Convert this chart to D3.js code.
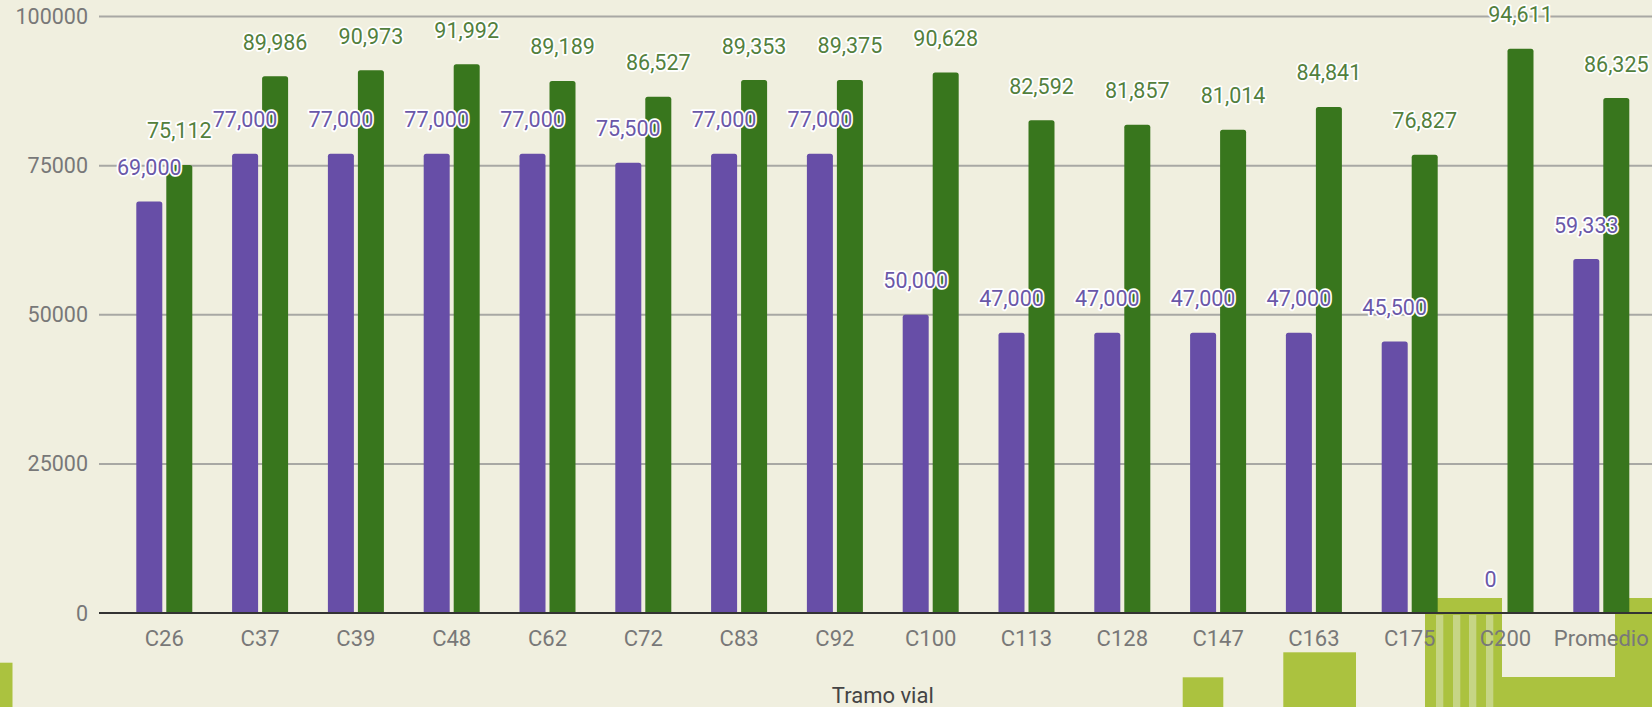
<!DOCTYPE html>
<html>
<head>
    <meta charset="utf-8">
    <style>
        body { margin: 0; background: #f0efdf; }
        text { font-family: Roboto, "Noto Sans", sans-serif; }
        line.grid { stroke: #a8a8a4; stroke-width: 2px; }
        line.base { stroke: #333; stroke-width: 2px; }
        text.tick { fill: #787878; font-size: 21.5px; }
        text.cat { fill: #787878; font-size: 22px; }
        text.title { fill: #444; font-size: 22px; }
        text.note {
            font-size: 21.5px;
            stroke: #fff;
            stroke-width: 3.5px;
            stroke-linejoin: round;
            paint-order: stroke;
        }
        rect.deco { fill: #abc23f; }
        rect.stripe { fill: #c6d585; }
    </style>
</head>
<body>
<div id="chart"></div>
<script src="https://cdn.jsdelivr.net/npm/d3@7/dist/d3.min.js"></script>
<script>

    var categories = ["C26", "C37", "C39", "C48", "C62", "C72", "C83", "C92", "C100",
        "C113", "C128", "C147", "C163", "C175", "C200", "Promedio"];
    var purpleValues = [69000, 77000, 77000, 77000, 77000, 75500, 77000, 77000, 50000,
        47000, 47000, 47000, 47000, 45500, 0, 59333];
    var greenValues = [75112, 89986, 90973, 91992, 89189, 86527, 89353, 89375, 90628,
        82592, 81857, 81014, 84841, 76827, 94611, 86325];
    var yTicks = [0, 25000, 50000, 75000, 100000];

    var width = 1652;
    var height = 707;

    var series = [
        {key: "a", values: purpleValues, color: "#674ea7", text: "#6a58a8"},
        {key: "b", values: greenValues, color: "#38761d", text: "#52803d"}
    ];

    var svg = d3.select("#chart").append("svg")
        .attr("width", width)
        .attr("height", height);

    // lime blocks in the background, behind the chart
    var deco = [
        [0, 662.7, 12.5, 44.3],
        [1182.7, 677.3, 40.6, 29.7],
        [1283.3, 652.3, 72.7, 54.7],
        [1425, 598, 77, 109],
        [1502, 677, 113, 30],
        [1615, 598, 37, 109]
    ];
    svg.append("g").selectAll("rect.deco")
        .data(deco)
        .enter().append("rect")
        .attr("class", "deco")
        .attr("x", function (d) { return d[0]; })
        .attr("y", function (d) { return d[1]; })
        .attr("width", function (d) { return d[2]; })
        .attr("height", function (d) { return d[3]; });

    var stripes = [1436, 1453, 1469, 1486];
    svg.append("g").selectAll("rect.stripe")
        .data(stripes)
        .enter().append("rect")
        .attr("class", "stripe")
        .attr("x", function (d) { return d; })
        .attr("y", 615)
        .attr("width", 7.3)
        .attr("height", 92);

    var y = d3.scaleLinear().domain([0, 100000]).range([613, 16.5]);

    var x0 = d3.scaleBand()
        .domain(categories)
        .range([116.4, 1649.2])
        .paddingInner(0.4154)
        .paddingOuter(0.2077);

    var x1 = d3.scaleBand()
        .domain(series.map(function (s) { return s.key; }))
        .range([0, x0.bandwidth()])
        .paddingInner(0.1333);

    var gridLeft = 99;

    svg.append("g").selectAll("line.grid")
        .data(yTicks.filter(function (d) { return d > 0; }))
        .enter().append("line")
        .attr("class", "grid")
        .attr("x1", gridLeft)
        .attr("x2", width)
        .attr("y1", function (d) { return y(d); })
        .attr("y2", function (d) { return y(d); });

    svg.append("g").selectAll("text.tick")
        .data(yTicks)
        .enter().append("text")
        .attr("class", "tick")
        .attr("x", 88)
        .attr("y", function (d) { return y(d); })
        .attr("text-anchor", "end")
        .attr("dominant-baseline", "central")
        .text(function (d) { return d; });

    function barPath(x, top, w, bottom) {
        var r = Math.min(2.5, (bottom - top) / 2);
        return "M" + x + "," + bottom +
            "V" + (top + r) +
            "Q" + x + "," + top + " " + (x + r) + "," + top +
            "H" + (x + w - r) +
            "Q" + (x + w) + "," + top + " " + (x + w) + "," + (top + r) +
            "V" + bottom + "Z";
    }

    var gBars = svg.append("g");
    series.forEach(function (s) {
        gBars.selectAll("path.bar-" + s.key)
            .data(s.values)
            .enter().append("path")
            .attr("class", "bar-" + s.key)
            .attr("fill", s.color)
            .attr("d", function (d, i) {
                if (d === 0) return null;
                return barPath(x0(categories[i]) + x1(s.key), y(d), x1.bandwidth(), y(0));
            });
    });

    svg.append("line")
        .attr("class", "base")
        .attr("x1", gridLeft)
        .attr("x2", width)
        .attr("y1", y(0))
        .attr("y2", y(0));

    svg.append("g").selectAll("text.cat")
        .data(categories)
        .enter().append("text")
        .attr("class", "cat")
        .attr("x", function (d) { return x0(d) + x0.bandwidth() / 2; })
        .attr("y", 646)
        .attr("text-anchor", "middle")
        .text(function (d) { return d; });

    var fmt = d3.format(",");
    var gNotes = svg.append("g");
    series.forEach(function (s) {
        gNotes.selectAll("text.note-" + s.key)
            .data(s.values)
            .enter().append("text")
            .attr("class", "note note-" + s.key)
            .attr("fill", s.text)
            .attr("x", function (d, i) {
                return x0(categories[i]) + x1(s.key) + x1.bandwidth() / 2;
            })
            .attr("y", function (d) { return y(d) - 34; })
            .attr("text-anchor", "middle")
            .attr("dominant-baseline", "central")
            .text(function (d) { return fmt(d); });
    });

    svg.append("text")
        .attr("class", "title")
        .attr("x", (x0.range()[0] + x0.range()[1]) / 2)
        .attr("y", 703)
        .attr("text-anchor", "middle")
        .text("Tramo vial");

</script>
</body>
</html>
